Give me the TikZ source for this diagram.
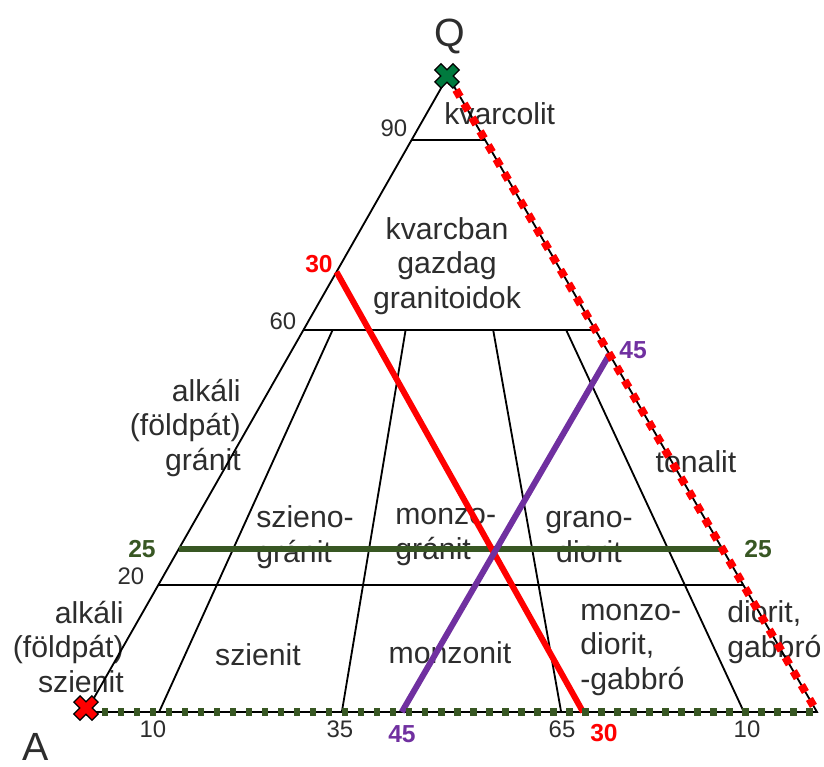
\documentclass[tikz,border=0pt]{standalone}
\usepackage{fontspec}
\setmainfont{Liberation Sans}
\usetikzlibrary{calc}
\definecolor{qapred}{RGB}{255,0,0}
\definecolor{qappurple}{RGB}{112,48,160}
\definecolor{qapgreen}{RGB}{56,87,35}
\definecolor{qapxgreen}{RGB}{0,122,62}
\definecolor{qapgray}{RGB}{45,45,45}
\tikzset{pics/xmark/.style={code={
  \draw[black, line width=0.25cm] (-9.5,-9.5) -- (9.5,9.5) (-9.5,9.5) -- (9.5,-9.5);
  \draw[#1, line width=0.18cm] (-8.5,-8.5) -- (8.5,8.5) (-8.5,8.5) -- (8.5,-8.5);
}}}

\begin{document}
\begin{tikzpicture}[x=0.025cm, y=-0.025cm,
  field/.style={text=qapgray, inner sep=0pt, font=\fontsize{21.5}{24.5}\selectfont},
  tick/.style={text=qapgray, inner sep=0pt, font=\fontsize{17}{20}\selectfont},
  corner/.style={text=qapgray, inner sep=0pt, font=\fontsize{28}{32}\selectfont},
  value/.style={inner sep=0pt, font=\fontsize{17.5}{20}\selectfont\bfseries},
  rim/.style={black, line width=1.3pt},
  cut/.style={line width=0.15cm},
  basedots/.style={qapgreen, line width=0.18cm, dash pattern=on 0.16cm off 0.24cm},
  sidedots/.style={qapred, line width=0.2cm, dash pattern=on 0.2cm off 0.2cm}
]
  \useasboundingbox (0,0) rectangle (824,767);

  \coordinate (A) at (86,712);
  \coordinate (Q) at (448,76);
  \coordinate (P) at (817,712);

  \node[corner] (qlab) at (450,36) {Q};
  \node[corner] (alab) at (36,747) {A};

  \node[field, anchor=west] (kvarcolit) at (444,114) {kvarcolit};
  \node[field, align=center] (gazdag) at (447,266) {kvarcban\\gazdag\\granitoidok};
  \node[field, align=right, anchor=east] (afgranit) at (241,428) {alkáli\\(földpát)\\gránit};
  \node[field, align=left, anchor=west] (szgranit) at (256,537) {szieno-\\gránit};
  \node[field, align=left, anchor=west] (mzgranit) at (395,537) {monzo-\\gránit};
  \node[field, align=center] (grdiorit) at (589,537) {grano-\\diorit};
  \node[field] (tonalit) at (696,462) {tonalit};
  \node[field, align=right, anchor=east] (afszienit) at (124,647) {alkáli\\(földpát)\\szienit};
  \node[field] (szienit) at (258,655) {szienit};
  \node[field] (monzonit) at (450,653) {monzonit};
  \node[field, align=left, anchor=west] (mzdiorit) at (580,650) {monzo-\\diorit,\\-gabbró};
  \node[field, align=left, anchor=west] (diorit) at (727,632) {diorit,\\gabbró};

  \node[tick] (t90) at (394,128) {90};
  \node[tick] (t60) at (283,321) {60};
  \node[tick] (t20) at (131,576) {20};
  \node[tick] (t10a) at (153,729) {10};
  \node[tick] (t35) at (340,729) {35};
  \node[tick] (t65) at (562,729) {65};
  \node[tick] (t10b) at (747,729) {10};

  \draw[rim] (A) -- (Q) -- (P) -- cycle;
  \foreach \h/\n in {0.9/n,0.6/s,0.2/t} {
    \coordinate (l\n) at ($(A)!\h!(Q)$);
    \coordinate (r\n) at ($(P)!\h!(Q)$);
    \draw[rim] (l\n) -- (r\n);
  }
  \foreach \f/\n in {0.1/a,0.35/b,0.65/c,0.9/d} {
    \coordinate (b\n) at ($(A)!\f!(P)$);
    \coordinate (m\n) at ($(b\n)!0.6!(Q)$);
    \draw[rim] (b\n) -- (m\n);
  }

  \coordinate (grn1) at ($(A)!0.256!(Q)$);
  \coordinate (grn2) at ($(P)!0.256!(Q)$);
  \coordinate (red1) at ($(A)!0.692!(Q)$);
  \coordinate (red2) at ($(A)!0.68!(P)$);
  \coordinate (vio1) at ($(A)!0.432!(P)$);
  \coordinate (vio2) at ($(P)!0.5625!(Q)$);

  \draw[cut, qapgreen] (grn1) -- (grn2);
  \draw[cut, qapred] (red1) -- (red2);
  \draw[cut, qappurple] (vio1) -- (vio2);

  \draw[basedots] (A) -- (P);
  \draw[sidedots] (Q) -- (P);

  \node[value, text=qapgreen] (g25a) at (142,549) {25};
  \node[value, text=qapgreen] (g25b) at (758,549) {25};
  \node[value, text=qapred] (r30a) at (319,264) {30};
  \node[value, text=qapred] (r30b) at (604,733) {30};
  \node[value, text=qappurple] (v45a) at (402,734) {45};
  \node[value, text=qappurple] (v45b) at (633,350) {45};

  \pic at (86,708) {xmark=qapred};
  \pic at (447,76) {xmark=qapxgreen};
\end{tikzpicture}
\end{document}
